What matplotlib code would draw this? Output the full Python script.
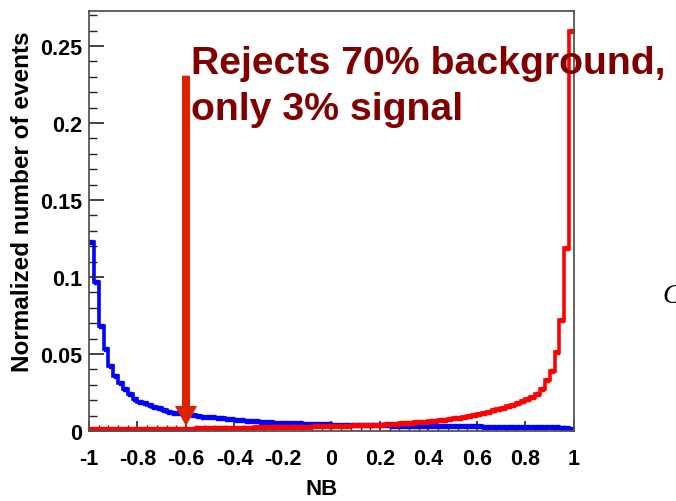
import numpy as np
import matplotlib
matplotlib.use("Agg")
import matplotlib.pyplot as plt

# histogram binning: 100 bins from -1 to 1
nb_edges = np.linspace(-1, 1, 101)

# background (blue)
background = [
    0.1230, 0.0970, 0.0680, 0.0530, 0.0420, 0.0360, 0.0310, 0.0270, 0.0240, 0.0210,
    0.0190, 0.0185, 0.0170, 0.0155, 0.0150, 0.0135, 0.0125, 0.0120, 0.0115, 0.0110,
    0.0110, 0.0105, 0.0098, 0.0092, 0.0090, 0.0088, 0.0085, 0.0082, 0.0080, 0.0077,
    0.0073, 0.0070, 0.0068, 0.0066, 0.0063, 0.0060, 0.0058, 0.0056, 0.0055, 0.0053,
    0.0052, 0.0051, 0.0050, 0.0049, 0.0048, 0.0047, 0.0046, 0.0045, 0.0044, 0.0043,
    0.0042, 0.0042, 0.0041, 0.0040, 0.0040, 0.0039, 0.0038, 0.0038, 0.0037, 0.0036,
    0.0036, 0.0036, 0.0035, 0.0035, 0.0034, 0.0034, 0.0034, 0.0033, 0.0033, 0.0033,
    0.0032, 0.0032, 0.0032, 0.0031, 0.0031, 0.0031, 0.0031, 0.0030, 0.0030, 0.0030,
    0.0030, 0.0029, 0.0029, 0.0029, 0.0028, 0.0028, 0.0028, 0.0027, 0.0027, 0.0027,
    0.0026, 0.0026, 0.0026, 0.0025, 0.0025, 0.0025, 0.0024, 0.0022, 0.0018, 0.0012,
]

# signal (red)
signal = [
    0.0012, 0.0013, 0.0012, 0.0013, 0.0013, 0.0012, 0.0013, 0.0014, 0.0013, 0.0013,
    0.0014, 0.0013, 0.0014, 0.0014, 0.0015, 0.0014, 0.0015, 0.0015, 0.0016, 0.0015,
    0.0016, 0.0016, 0.0017, 0.0017, 0.0018, 0.0018, 0.0019, 0.0019, 0.0020, 0.0020,
    0.0021, 0.0021, 0.0022, 0.0022, 0.0023, 0.0023, 0.0024, 0.0024, 0.0025, 0.0025,
    0.0026, 0.0026, 0.0027, 0.0028, 0.0028, 0.0029, 0.0030, 0.0030, 0.0031, 0.0032,
    0.0033, 0.0033, 0.0034, 0.0035, 0.0036, 0.0037, 0.0038, 0.0039, 0.0040, 0.0041,
    0.0042, 0.0044, 0.0045, 0.0047, 0.0049, 0.0051, 0.0053, 0.0056, 0.0058, 0.0061,
    0.0064, 0.0067, 0.0070, 0.0074, 0.0078, 0.0082, 0.0087, 0.0092, 0.0098, 0.0104,
    0.0110, 0.0118, 0.0126, 0.0134, 0.0143, 0.0150, 0.0160, 0.0172, 0.0185, 0.0195,
    0.0205, 0.0220, 0.0240, 0.0270, 0.0330, 0.0390, 0.0510, 0.0720, 0.1190, 0.2600,
]

x_ticks = [-1, -0.8, -0.6, -0.4, -0.2, 0, 0.2, 0.4, 0.6, 0.8, 1]
x_ticklabels = ["-1", "-0.8", "-0.6", "-0.4", "-0.2", "0", "0.2", "0.4", "0.6", "0.8", "1"]
y_ticks = [0, 0.05, 0.1, 0.15, 0.2, 0.25]
y_ticklabels = ["0", "0.05", "0.1", "0.15", "0.2", "0.25"]

cut_value = -0.6
label_lines = ["Rejects 70% background,", "only 3% signal"]

plt.rcParams['font.family'] = ['Liberation Sans', 'DejaVu Sans']

W, H = 676, 502
fig = plt.figure(figsize=(W / 100, H / 100), dpi=100)
ax = fig.add_axes([89 / W, 1 - 432 / H, (574 - 89) / W, (432 - 12) / H])

centers = 0.5 * (nb_edges[:-1] + nb_edges[1:])
for vals, col in [(background, "#0000ff"), (signal, "#ff0000")]:
    ax.stairs(vals, nb_edges, color=col, linewidth=2.6, baseline=None)
    ax.plot(centers, vals, ls="none", marker="s", ms=3.5, color=col, mec=col)

ax.set_xlim(-1, 1)
ax.set_ylim(0, 0.2727)
ax.set_xticks(x_ticks)
ax.set_xticklabels(x_ticklabels)
ax.set_yticks(y_ticks)
ax.set_yticklabels(y_ticklabels)
ax.set_xticks(np.arange(-1, 1.001, 0.04), minor=True)
ax.set_yticks(np.arange(0, 0.271, 0.01), minor=True)

ax.tick_params(axis="both", which="both", direction="in", labelsize=15.5, color="#222222")
ax.tick_params(axis="y", which="major", length=11, width=1.2, pad=5)
ax.tick_params(axis="y", which="minor", length=5.5, width=1.0)
ax.tick_params(axis="x", which="major", length=7.5, width=1.2, pad=12)
ax.tick_params(axis="x", which="minor", length=4, width=1.0)
for lab in ax.get_xticklabels() + ax.get_yticklabels():
    lab.set_fontweight("bold")

for s in ax.spines.values():
    s.set_color("#555555")
    s.set_linewidth(1.3)

ax.set_xlabel("NB", fontsize=16, fontweight="bold", va="center")
ax.xaxis.set_label_coords(0.48, -0.138)
ax.set_ylabel("Normalized number of events", fontsize=17.5, fontweight="bold", va="center")
ax.yaxis.set_label_coords(-0.138, 0.548)

# cut arrow
ax.annotate("", xy=(cut_value, 0.0032), xytext=(cut_value, 0.2307),
            arrowprops=dict(width=5.8, headwidth=16, headlength=14.5, shrink=0,
                            facecolor="#dd2200", edgecolor="none"))

fig.text(190.5 / W, 1 - 74 / H, label_lines[0], fontsize=28.3, fontweight="bold",
         color="#800000", va="baseline", ha="left")
fig.text(190.5 / W, 1 - 120 / H, label_lines[1], fontsize=28.3, fontweight="bold",
         color="#800000", va="baseline", ha="left")

# leftover of a cut-off text on the slide
fig.text(662 / W, 1 - 303 / H, "C", fontsize=20, family="Liberation Serif",
         style="italic", va="baseline", ha="left")

fig.savefig("out.png", dpi=100)
